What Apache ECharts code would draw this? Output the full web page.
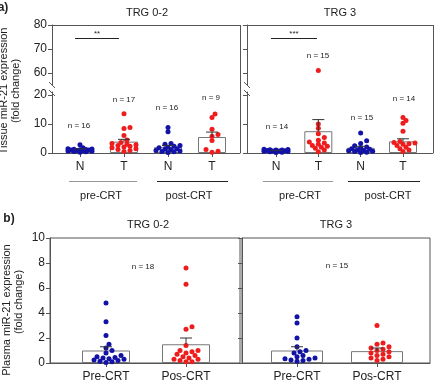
<!DOCTYPE html>
<html>
<head>
<meta charset="utf-8">
<script src="https://cdn.jsdelivr.net/npm/echarts@6/dist/echarts.min.js"></script>
<style>
html,body{margin:0;padding:0;background:#fff;}
#main{width:436px;height:383px;}
</style>
</head>
<body>
<div id="main"></div>
<script>
// categories
var tissueCats = ['N', 'T', 'N', 'T'];
var plasmaCats = ['Pre-CRT', 'Pos-CRT'];

// tissue miR-21, TRG 0-2
var t02PreN  = [2.8, 1.8, 1.5, 1.4, 1.3, 1.2, 1.1, 1.0, 1.0, 0.9, 0.8, 0.7, 0.6, 0.5, 0.4, 0.3];
var t02PreT  = [13.5, 8.8, 8.4, 6.0, 4.5, 3.6, 3.3, 3.0, 2.8, 2.6, 2.3, 2.1, 1.8, 1.5, 1.2, 0.9, 0.5];
var t02PostN = [8.8, 7.3, 3.3, 3.0, 2.6, 2.3, 2.0, 1.8, 1.5, 1.3, 1.1, 0.9, 0.7, 0.5, 0.4, 0.2];
var t02PostT = [13.4, 12.2, 8.2, 6.4, 5.8, 4.3, 1.2, 0.6, 0.3];
var t02Mean  = [1.2, 3.9, 2.0, 5.5];
var t02Sem   = [0.2, 0.8, 0.6, 1.7];

// tissue miR-21, TRG 3
var t3PreN  = [1.3, 1.2, 1.1, 1.0, 1.0, 0.9, 0.8, 0.7, 0.7, 0.6, 0.5, 0.4, 0.3, 0.2];
var t3PreT  = [61.0, 10.0, 8.5, 6.6, 5.3, 4.4, 3.8, 3.4, 3.0, 2.6, 2.3, 2.0, 1.6, 1.0, 0.4];
var t3PostN = [6.9, 4.2, 3.3, 2.5, 2.1, 1.8, 1.5, 1.3, 1.1, 0.9, 0.8, 0.6, 0.5, 0.3, 0.2];
var t3PostT = [12.2, 11.2, 10.2, 7.5, 4.0, 3.6, 3.4, 3.2, 3.0, 2.6, 2.0, 1.5, 1.0, 0.5];
var t3Mean  = [0.8, 7.5, 1.8, 4.0];
var t3Sem   = [0.1, 4.0, 0.5, 0.9];

// plasma miR-21
var p02Pre = [4.8, 3.3, 2.2, 1.5, 1.2, 1.0, 0.8, 0.6, 0.5, 0.45, 0.4, 0.35, 0.3, 0.25, 0.2, 0.15, 0.1, 0.05];
var p02Pos = [7.6, 6.3, 2.9, 2.7, 1.4, 1.0, 1.0, 0.9, 0.8, 0.7, 0.6, 0.5, 0.4, 0.3, 0.3, 0.2, 0.1, 0.1];
var p3Pre  = [3.7, 3.2, 2.0, 1.3, 1.0, 0.9, 0.8, 0.6, 0.5, 0.4, 0.35, 0.3, 0.25, 0.2, 0.15];
var p3Pos  = [3.0, 1.6, 1.5, 1.3, 1.2, 1.1, 1.0, 0.9, 0.8, 0.7, 0.6, 0.5, 0.4, 0.3, 0.2];
var p02Mean = [1.0, 1.5];
var p02Sem  = [0.3, 0.5];
var p3Mean  = [1.0, 0.95];
var p3Sem   = [0.3, 0.25];

var FONT = 'Liberation Sans, Arial, sans-serif';
var BLUE = '#1212a6', RED = '#ee1c1c', AX = '#555', TXT = '#222';

// simple beeswarm: spread overlapping dots sideways (pixel space), kept within the bar
function swarm(vals, center, pxX, pxY, dist, step, maxOff) {
    var placed = [];
    vals.slice().sort(function (a, b) { return a - b; }).forEach(function (v) {
        var py = v * pxY, best = 0, bestD = -1;
        for (var k = 0; ; k++) {
            var px = (k % 2 ? 1 : -1) * Math.ceil(k / 2) * step;
            if (Math.abs(px) > maxOff) break;
            var d = placed.reduce(function (m, p) { return Math.min(m, Math.hypot(p[0] - px, p[1] - py)); }, 1e9);
            if (d >= dist) { best = px; bestD = d; break; }
            if (d > bestD) { bestD = d; best = px; }
        }
        placed.push([best, py]);
    });
    return placed.map(function (p) { return [center + p[0] / pxX, p[1] / pxY]; });
}

var series = [];
function addBars(ax, means, w) {
    series.push({
        type: 'bar', xAxisIndex: ax, yAxisIndex: ax, barWidth: w, silent: true, z: 1,
        data: means.map(function (m, i) { return [i, m]; }),
        itemStyle: { color: '#fff', borderColor: '#777', borderWidth: 1 }
    });
}
function addErr(ax, means, sems) {
    series.push({
        type: 'custom', xAxisIndex: ax, yAxisIndex: ax, silent: true, z: 4,
        data: means.map(function (m, i) { return [i, m, m + sems[i]]; }),
        renderItem: function (params, api) {
            var b = api.coord([api.value(0), api.value(1)]);
            var t = api.coord([api.value(0), api.value(2)]);
            return { type: 'group', children: [
                { type: 'line', shape: { x1: b[0], y1: b[1], x2: t[0], y2: t[1] }, style: { stroke: '#333', lineWidth: 1 } },
                { type: 'line', shape: { x1: t[0] - 6, y1: t[1], x2: t[0] + 6, y2: t[1] }, style: { stroke: '#333', lineWidth: 1 } }
            ] };
        }
    });
}
function addDots(ax, groups, colors, pxX, pxY, lo, hi, maxOff) {
    groups.forEach(function (vals, i) {
        var pts = swarm(vals, i, pxX, pxY, 4, 3, maxOff).filter(function (p) { return p[1] >= lo && p[1] <= hi; });
        series.push({
            type: 'scatter', xAxisIndex: ax, yAxisIndex: ax, symbolSize: 5, silent: true, z: 3,
            data: pts, itemStyle: { color: colors[i], opacity: 1 }
        });
    });
}

var t02Groups = [t02PreN, t02PreT, t02PostN, t02PostT];
var t3Groups = [t3PreN, t3PreT, t3PostN, t3PostT];
var colA = [BLUE, RED, BLUE, RED], colB = [BLUE, RED];

// a) TRG 0-2 : axes 0 (upper), 1 (lower)
addDots(0, t02Groups, colA, 44, 2.4, 55, 80, 14);
addBars(1, t02Mean, 28);
addDots(1, t02Groups, colA, 44, 61 / 21, 0, 21, 14);
addErr(1, t02Mean, t02Sem);
// a) TRG 3 : axes 2, 3
addDots(2, t3Groups, colA, 42.33, 2.4, 55, 80, 14);
addBars(3, t3Mean, 28);
addDots(3, t3Groups, colA, 42.33, 61 / 21, 0, 21, 14);
addErr(3, t3Mean, t3Sem);
// b) plasma : axes 4, 5
addBars(4, p02Mean, 48);
addDots(4, [p02Pre, p02Pos], colB, 80, 12.7, 0, 10, 20);
addErr(4, p02Mean, p02Sem);
addBars(5, p3Mean, 52);
addDots(5, [p3Pre, p3Pos], colB, 80, 12.7, 0, 10, 20);
addErr(5, p3Mean, p3Sem);

var lineStyle = { color: AX, width: 1 };
function xUpper(min, max) {
    return { type: 'value', min: min, max: max, position: 'top',
        axisLine: { show: true, onZero: false, lineStyle: lineStyle },
        axisTick: { show: false }, axisLabel: { show: false }, splitLine: { show: false } };
}
function xLower(min, max, cats) {
    var vals = cats.map(function (c, i) { return i; });
    return { type: 'value', min: min, max: max, position: 'bottom',
        axisLine: { show: true, onZero: false, lineStyle: lineStyle },
        axisTick: { show: true, customValues: vals, length: 4, lineStyle: lineStyle },
        axisLabel: { customValues: vals, margin: 8, color: TXT, fontSize: 12, fontFamily: FONT,
            formatter: function (v) { return cats[Math.round(v)]; } },
        splitLine: { show: false } };
}
function yAxis(min, max, vals, labels) {
    return { type: 'value', min: min, max: max,
        axisLine: { show: true, onZero: false, lineStyle: lineStyle },
        axisTick: { show: true, customValues: vals, length: 4, lineStyle: lineStyle },
        axisLabel: { show: labels, customValues: vals, margin: 5, color: TXT, fontSize: 12, fontFamily: FONT },
        splitLine: { show: false } };
}

var xAxes = [
    xUpper(-0.636, 3.636), xLower(-0.636, 3.636, tissueCats),
    xUpper(-0.685, 3.709), xLower(-0.685, 3.709, tissueCats),
    xLower(-0.7, 1.675, plasmaCats), xLower(-0.6875, 1.6625, plasmaCats)
];
xAxes.forEach(function (a, i) { a.gridIndex = i; });
var yAxes = [
    yAxis(55, 80, [60, 70, 80], true), yAxis(0, 21, [0, 10, 20], true),
    yAxis(55, 80, [60, 70, 80], false), yAxis(0, 21, [0, 10, 20], false),
    yAxis(0, 10, [0, 2, 4, 6, 8, 10], true), yAxis(0, 10, [0, 2, 4, 6, 8, 10], false)
];
yAxes.forEach(function (a, i) { a.gridIndex = i; });

function txt(x, y, s, size, extra) {
    var o = { type: 'text', x: x, y: y, silent: true,
        style: { text: s, fill: TXT, font: (extra && extra.bold ? 'bold ' : '') + size + 'px ' + FONT,
            textAlign: 'center', textVerticalAlign: 'middle' } };
    if (extra && extra.rot) o.rotation = Math.PI / 2;
    return o;
}
function ln(x1, y1, x2, y2, c) {
    return { type: 'line', silent: true, shape: { x1: x1, y1: y1, x2: x2, y2: y2 }, style: { stroke: c || AX, lineWidth: 1 } };
}

var graphic = [
    txt(3, 8, 'a)', 12, { bold: true }),
    txt(9, 219, 'b)', 12, { bold: true }),
    txt(147, 13, 'TRG 0-2', 11), txt(340, 13, 'TRG 3', 11),
    txt(148, 225, 'TRG 0-2', 11), txt(336, 225, 'TRG 3', 11),
    txt(4, 91, 'Tissue miR-21 expression', 11, { rot: true }),
    txt(16, 91, '(fold change)', 11, { rot: true }),
    txt(7, 310, 'Plasma miR-21 expression', 11, { rot: true }),
    txt(19, 302, '(fold change)', 11, { rot: true }),
    // right borders of the broken-axis panels
    ln(240.5, 25, 240.5, 153), ln(433.5, 25, 433.5, 153),
    // axis break marks
    ln(49, 82, 55, 88), ln(49, 90, 55, 96),
    ln(244, 82, 250, 88), ln(244, 90, 250, 96),
    // significance
    ln(75, 38.5, 119, 38.5, '#222'), txt(97, 34, '**', 8),
    ln(271, 38.5, 317, 38.5, '#222'), txt(294, 34, '***', 8),
    // pre/post groupings
    ln(69, 181.5, 137, 181.5, '#999'), ln(157, 181.5, 228, 181.5, '#222'),
    ln(263, 181.5, 333, 181.5, '#999'), ln(348, 181.5, 420, 181.5, '#222'),
    txt(101, 196, 'pre-CRT', 11), txt(189, 196, 'post-CRT', 11),
    txt(300, 196, 'pre-CRT', 11), txt(388, 196, 'post-CRT', 11),
    // group sizes
    txt(79, 126, 'n = ' + t02PreN.length, 8), txt(124, 100, 'n = ' + t02PreT.length, 8),
    txt(167, 108, 'n = ' + t02PostN.length, 8), txt(211, 98, 'n = ' + t02PostT.length, 8),
    txt(277, 127, 'n = ' + t3PreN.length, 8), txt(318, 56, 'n = ' + t3PreT.length, 8),
    txt(362, 118, 'n = ' + t3PostN.length, 8), txt(404, 99, 'n = ' + t3PostT.length, 8),
    txt(143, 267, 'n = ' + p02Pre.length, 8), txt(337, 266, 'n = ' + p3Pre.length, 8)
];

var myChart = echarts.init(document.getElementById('main'));
myChart.setOption({
    animation: false,
    backgroundColor: '#fff',
    grid: [
        { left: 52, top: 25, width: 188, height: 60 },
        { left: 52, top: 92, width: 188, height: 61 },
        { left: 247, top: 25, width: 186, height: 60 },
        { left: 247, top: 92, width: 186, height: 61 },
        { left: 50, top: 238, width: 190, height: 127, show: true, borderColor: AX, borderWidth: 1 },
        { left: 242, top: 238, width: 188, height: 127, show: true, borderColor: AX, borderWidth: 1 }
    ],
    xAxis: xAxes,
    yAxis: yAxes,
    series: series,
    graphic: graphic
});
</script>
</body>
</html>
